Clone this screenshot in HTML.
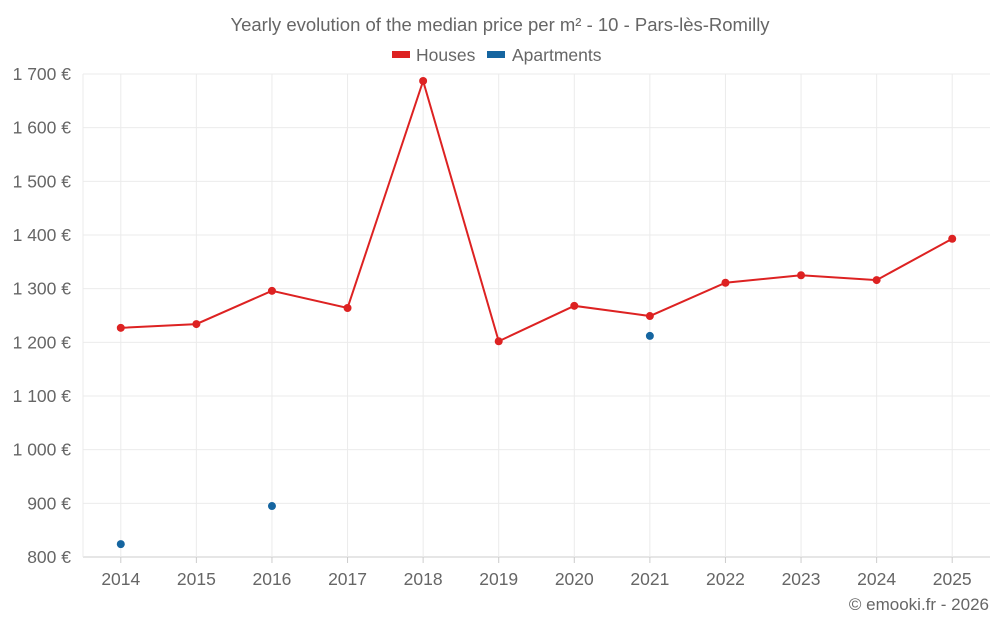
<!DOCTYPE html>
<html><head><meta charset="utf-8"><style>
body{margin:0;background:#fff;font-family:"Liberation Sans",sans-serif;}
svg text{font-family:"Liberation Sans",sans-serif;fill:#666;}
</style></head><body>
<svg id="chart" width="1000" height="625" xmlns="http://www.w3.org/2000/svg">
<text x="500" y="31" text-anchor="middle" font-size="18.5">Yearly evolution of the median price per m² - 10 - Pars-lès-Romilly</text>
<g>
<g><rect x="392" y="51" width="18" height="7" fill="#dd2222"/><text x="416" y="61" font-size="17.5">Houses</text></g>
<g><rect x="487" y="51" width="18" height="7" fill="#1565a0"/><text x="512" y="61" font-size="17.5">Apartments</text></g>
</g>
<g id="grid"></g>
<g id="axes"></g>
<g id="series"></g>
<text x="989" y="610" text-anchor="end" font-size="17">© emooki.fr - 2026</text>
</svg>
<script>
const categories=["2014","2015","2016","2017","2018","2019","2020","2021","2022","2023","2024","2025"];
const housesValues=[1227,1234,1296,1264,1687,1202,1268,1249,1311,1325,1316,1393];
const apartmentsValues=[824,null,895,null,null,null,null,1212,null,null,null,null];
const yTicks=[800,900,1000,1100,1200,1300,1400,1500,1600,1700];
const yTickLabels=["800 €","900 €","1 000 €","1 100 €","1 200 €","1 300 €","1 400 €","1 500 €","1 600 €","1 700 €"];

const L=83,R=990,T=74,B=557,yMin=800,yMax=1700;
const step=(R-L)/categories.length;
const x=i=>L+step*(i+0.5);
const y=v=>B-(v-yMin)/(yMax-yMin)*(B-T);
const NS="http://www.w3.org/2000/svg";
function mk(tag,attrs,parent){const e=document.createElementNS(NS,tag);for(const k in attrs)e.setAttribute(k,attrs[k]);parent.appendChild(e);return e;}
const grid=document.getElementById('grid'),axes=document.getElementById('axes'),series=document.getElementById('series');

yTicks.forEach((v,i)=>{
  const l=mk('line',{x1:L,x2:R,y1:y(v),y2:y(v),stroke:i==0?'#ccc':'#ebebeb','stroke-width':1},grid);
  
  
  const t=mk('text',{x:71,y:y(v)+6,'text-anchor':'end','font-size':17.5},axes);
  t.textContent=yTickLabels[i];
  
  
});
mk('line',{x1:L,x2:L,y1:T,y2:B,stroke:'#ebebeb'},grid);
categories.forEach((c,i)=>{
  const l=mk('line',{x1:x(i),x2:x(i),y1:T,y2:B,stroke:'#ebebeb'},grid);
  
  
  const tk=mk('line',{x1:x(i),x2:x(i),y1:B,y2:B+6,stroke:'#ccc'},axes);
  
  
  const t=mk('text',{x:x(i),y:585,'text-anchor':'middle','font-size':17.5},axes);
  t.textContent=c;
  
  
});

const pts=housesValues.map((v,i)=>x(i)+','+y(v)).join(' ');
const pl=mk('polyline',{points:pts,fill:'none',stroke:'#dd2222','stroke-width':2},series);


housesValues.forEach((v,i)=>{
  const c=mk('circle',{cx:x(i),cy:y(v),r:4,fill:'#dd2222'},series);
  
  
});
apartmentsValues.forEach((v,i)=>{
  if(v==null)return;
  const c=mk('circle',{cx:x(i),cy:y(v),r:4,fill:'#1565a0'},series);
  
  
});
</script>
</body></html>
